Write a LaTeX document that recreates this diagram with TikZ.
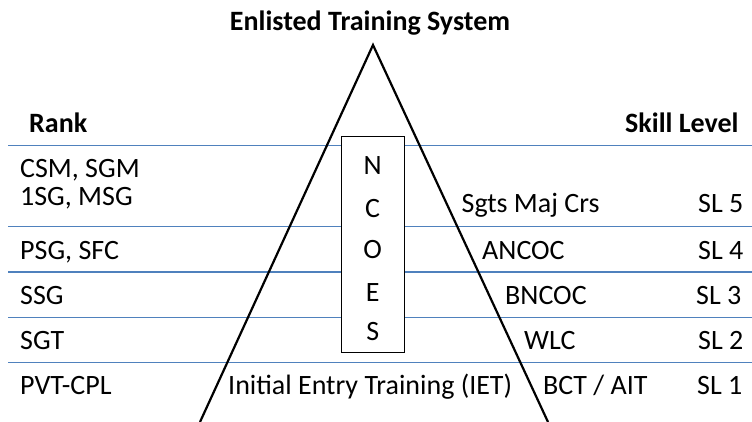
\documentclass[tikz,border=0pt]{standalone}
\usepackage{fontspec}
\setmainfont{Carlito}
\usepackage{xcolor}
\definecolor{rowblue}{RGB}{79,129,189}
\tikzset{txt/.style={anchor=base west,inner sep=0pt,font=\fontsize{28}{34}\selectfont}}
\tikzset{hd/.style={txt,font=\fontsize{28}{34}\selectfont\bfseries}}
\tikzset{rowline/.style={draw=rowblue,line width=1.2pt}}

\begin{document}
\begin{tikzpicture}[x=1pt,y=-1pt]
	\useasboundingbox (0,0) rectangle (752,422);

	% rank rows
	\draw[rowline] (8,145.5) -- (752,145.5);
	\draw[rowline] (8,226.7) -- (752,226.7);
	\draw[rowline] (8,272) -- (752,272);
	\draw[rowline] (8,317.7) -- (752,317.7);
	\draw[rowline] (8,362.7) -- (752,362.7);

	% the triangle
	\coordinate (top) at (373,45);
	\coordinate (bl) at (200,422);
	\coordinate (br) at (548,422);
	\draw[line width=2.2pt] (bl) -- (top) -- (br);

	\node[hd,anchor=base] (title) at (370,31) {Enlisted Training System};
	\node[hd] (rank) at (29,133) {Rank};
	\node[hd] (skill) at (625,133) {Skill Level};

	% NCOES column
	\node[draw,fill=white,line width=0.8pt,minimum width=63pt,minimum height=216pt,inner sep=0pt] (ncoes) at (372.5,244.7) {};
	\node[txt,anchor=base] (n) at (372.7,175) {N};
	\node[txt,anchor=base] (c) at (372.7,218) {C};
	\node[txt,anchor=base] (o) at (372.7,258) {O};
	\node[txt,anchor=base] (e) at (372.7,301) {E};
	\node[txt,anchor=base] (s) at (372.7,340) {S};

	\node[txt] (csm) at (20,178) {CSM, SGM};
	\node[txt] (msg) at (20,206) {1SG, MSG};
	\node[txt] (sfc) at (20,259) {PSG, SFC};
	\node[txt] (ssg) at (20,304) {SSG};
	\node[txt] (sgt) at (20,349) {SGT};
	\node[txt] (pvt) at (20,394) {PVT-CPL};

	\node[txt] (smc) at (461.5,213) {Sgts Maj Crs};
	\node[txt] (sl5) at (698,213) {SL 5};
	\node[txt] (ancoc) at (482,259) {ANCOC};
	\node[txt] (sl4) at (698,259) {SL 4};
	\node[txt] (bncoc) at (505,304) {BNCOC};
	\node[txt] (sl3) at (696,304) {SL 3};
	\node[txt] (wlc) at (524,349) {WLC};
	\node[txt] (sl2) at (698,349) {SL 2};
	\node[txt] (iet) at (228,394) {Initial Entry Training (IET)};
	\node[txt] (bct) at (543,394) {BCT / AIT};
	\node[txt] (sl1) at (697,394) {SL 1};
\end{tikzpicture}
\end{document}
